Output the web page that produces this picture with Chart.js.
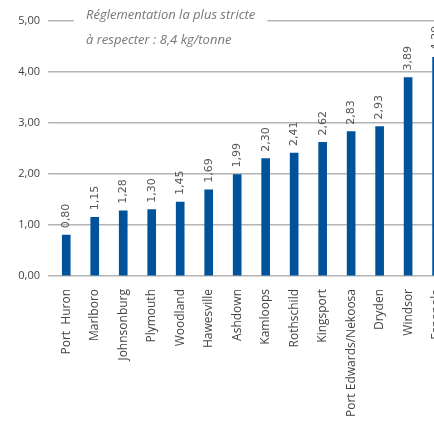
<!DOCTYPE html>
<html>
<head>
<meta charset="utf-8">
<script src="https://cdn.jsdelivr.net/npm/chart.js@4"></script>
<style>
  html, body { margin: 0; padding: 0; background: #fff; overflow: hidden; }
  #wrap { width: 434px; height: 422px; overflow: hidden; }
</style>
</head>
<body>
<div id="wrap"><canvas id="myChart" width="456" height="422"></canvas></div>
<script>
const mills = ['Port  Huron', 'Marlboro', 'Johnsonburg', 'Plymouth', 'Woodland', 'Hawesville', 'Ashdown',
    'Kamloops', 'Rothschild', 'Kingsport', 'Port Edwards/Nekoosa', 'Dryden', 'Windsor', 'Espanola'];
const emissions = [0.80, 1.15, 1.28, 1.30, 1.45, 1.69, 1.99, 2.30, 2.41, 2.62, 2.83, 2.93, 3.89, 4.29];
const yTicks = [0, 1, 2, 3, 4, 5];
const noteLines = ['Réglementation la plus stricte', 'à respecter : 8,4 kg/tonne'];

function fr(v) {
    return v.toFixed(2).replace('.', ',');
}

// value labels above each bar, rotated
const valueLabels = {
    id: 'valueLabels',
    afterDatasetsDraw(chart) {
        const ctx = chart.ctx;
        chart.getDatasetMeta(0).data.forEach((bar, i) => {
            ctx.save();
            ctx.translate(bar.x, bar.y - 7);
            ctx.rotate(-Math.PI / 2);
            ctx.font = '11px "DejaVu Sans"';
            ctx.fillStyle = '#555';
            ctx.textAlign = 'left';
            ctx.textBaseline = 'middle';
            ctx.fillText(fr(emissions[i]), 0, 0);
            ctx.restore();
        });
    }
};

// note sitting on the top gridline
const note = {
    id: 'note',
    afterDraw(chart) {
        const ctx = chart.ctx;
        const y = chart.scales.y.getPixelForValue(5);
        ctx.save();
        ctx.font = 'italic 13px "Open Sans"';
        const w = ctx.measureText(noteLines[0]).width;
        ctx.fillStyle = '#fff';
        ctx.fillRect(74, y - 3, w + 24, 6);
        ctx.fillStyle = '#777';
        ctx.textBaseline = 'middle';
        ctx.fillText(noteLines[0], 86, y - 6);
        ctx.fillText(noteLines[1], 86, y + 19);
        ctx.restore();
    }
};

const config = {
    type: 'bar',
    data: {
        labels: mills,
        datasets: [{
            data: emissions,
            backgroundColor: '#00539b',
            barThickness: 8
        }]
    },
    options: {
        responsive: false,
        animation: false,
        layout: { padding: { top: 21, left: 0, right: 0, bottom: 0 } },
        plugins: { legend: { display: false }, tooltip: { enabled: false } },
        scales: {
            x: {
                grid: { display: false },
                border: { display: false },
                ticks: {
                    minRotation: 90, maxRotation: 90, padding: 5, autoSkip: false,
                    color: '#444', font: { family: 'Open Sans', size: 12 }
                },
                afterFit(s) { s.height = 146; }
            },
            y: {
                min: 0, max: 5,
                afterBuildTicks(s) { s.ticks = yTicks.map(v => ({ value: v })); },
                grid: { color: '#b4b4b4', lineWidth: 1.5, tickLength: 4, tickColor: '#b4b4b4' },
                border: { display: false },
                ticks: {
                    padding: 8, color: '#444', font: { family: 'Open Sans', size: 11 },
                    callback: v => fr(v)
                },
                afterFit(s) { s.width = 52; }
            }
        }
    },
    plugins: [valueLabels, note]
};

const myChart = new Chart(document.getElementById('myChart'), config);
</script>
</body>
</html>
